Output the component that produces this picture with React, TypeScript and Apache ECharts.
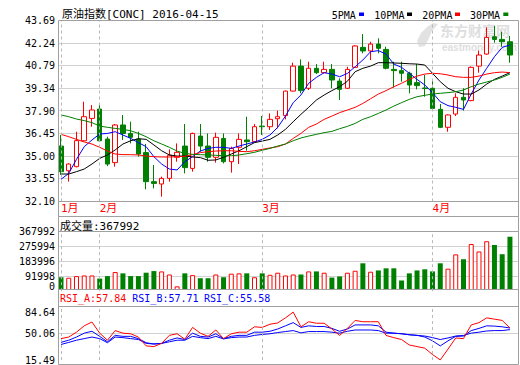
import { useEffect, useRef } from 'react';
import * as echarts from 'echarts';

// ---------- data ----------
const DATES = [
  '01-25', '01-26', '01-27', '01-28', '01-29',
  '02-01', '02-02', '02-03', '02-04', '02-05', '02-08', '02-09', '02-10', '02-11', '02-12',
  '02-15', '02-16', '02-17', '02-18', '02-19', '02-22', '02-23', '02-24', '02-25', '02-26', '02-29',
  '03-01', '03-02', '03-03', '03-04', '03-07', '03-08', '03-09', '03-10', '03-11', '03-14', '03-15',
  '03-16', '03-17', '03-18', '03-21', '03-22', '03-23', '03-24', '03-28', '03-29', '03-30', '03-31',
  '04-01', '04-04', '04-05', '04-06', '04-07', '04-08', '04-11', '04-12', '04-13', '04-14', '04-15',
];

// [open, close, low, high]
const OHLC = [
  [35.65, 34.01, 33.80, 36.36], [34.07, 34.50, 33.37, 34.55], [34.33, 36.00, 34.29, 36.57],
  [35.99, 37.53, 35.95, 38.49], [37.42, 37.96, 36.89, 38.28], [38.02, 35.99, 35.95, 38.34],
  [36.10, 34.50, 34.37, 36.25], [34.59, 37.00, 34.33, 37.06], [37.00, 36.46, 36.04, 37.64],
  [36.46, 36.21, 35.82, 37.21], [36.10, 35.14, 34.97, 36.57], [35.23, 33.37, 32.88, 35.78],
  [33.37, 33.26, 32.94, 34.44], [33.22, 33.58, 32.41, 33.69], [33.58, 35.06, 33.37, 35.44],
  [34.93, 35.25, 34.65, 35.82], [35.65, 34.27, 33.90, 37.06], [34.22, 36.46, 34.01, 36.51],
  [36.29, 35.65, 35.29, 37.06], [35.65, 34.93, 34.65, 36.46], [34.93, 36.21, 34.59, 36.51],
  [36.14, 34.65, 34.54, 36.46], [34.65, 35.50, 33.95, 35.61], [35.57, 36.08, 34.50, 36.46],
  [36.04, 35.93, 35.35, 37.53], [35.93, 36.89, 35.90, 37.06], [36.93, 36.89, 36.36, 37.57],
  [36.89, 37.36, 36.68, 37.74], [37.40, 37.53, 36.78, 37.92], [37.60, 39.17, 37.36, 39.20],
  [39.17, 40.77, 39.15, 40.99], [40.77, 39.20, 39.03, 41.20], [39.35, 40.63, 39.24, 41.05],
  [40.63, 40.35, 40.26, 40.90], [40.35, 40.56, 40.30, 41.05], [40.56, 39.88, 39.35, 40.90],
  [39.81, 39.28, 38.60, 39.99], [39.35, 40.56, 39.30, 40.73], [40.69, 42.06, 40.65, 42.10],
  [41.97, 41.74, 41.59, 42.82], [41.74, 42.18, 41.16, 42.33], [42.18, 41.91, 41.59, 42.55],
  [41.84, 40.63, 40.56, 42.01], [40.56, 40.48, 39.39, 41.05], [40.48, 40.31, 39.77, 41.05],
  [40.31, 39.56, 39.03, 40.41], [39.71, 39.52, 39.28, 40.90], [39.37, 39.33, 38.81, 40.20],
  [39.35, 38.06, 38.00, 39.84], [38.00, 36.85, 36.80, 38.34], [36.85, 37.64, 36.57, 37.68],
  [37.70, 38.77, 37.57, 39.03], [38.77, 38.60, 37.92, 39.35], [38.56, 40.69, 38.52, 40.75],
  [40.77, 41.48, 40.35, 41.76], [41.54, 42.61, 41.50, 43.25], [42.65, 42.48, 42.27, 43.34],
  [42.48, 42.33, 42.01, 42.97], [42.33, 41.48, 40.99, 42.70],
];

const VOLUME = [
  86000, 83000, 93000, 97000, 97000, 78000, 93000, 118000, 110000, 93000,
  93000, 114000, 124000, 122000, 103000, 30000, 110000, 99000, 80000, 80000,
  103000, 86000, 108000, 110000, 110000, 86000, 110000, 101000, 114000, 97000,
  103000, 103000, 122000, 122000, 114000, 84000, 91000, 114000, 126000, 172000,
  120000, 128000, 141000, 141000, 66000, 110000, 128000, 135000, 122000, 172000,
  139000, 227000, 197000, 291000, 245000, 308000, 285000, 228000, 335000,
];

const MA5 = [
  33.52, 33.90, 34.80, 35.61, 36.04, 36.42, 36.46, 36.57, 36.36, 36.14,
  35.87, 35.61, 34.97, 34.50, 34.18, 34.12, 34.65, 34.97, 35.33, 35.50,
  35.57, 35.57, 35.50, 35.65, 35.78, 35.91, 36.08, 36.36, 36.85, 37.57,
  38.43, 38.92, 39.67, 40.05, 40.35, 40.26, 40.09, 40.30, 40.73, 41.16,
  41.69, 41.76, 41.54, 40.90, 40.69, 40.31, 39.92, 39.56, 39.07, 38.49,
  38.24, 38.13, 38.00, 38.98, 39.88, 40.63, 41.37, 41.97, 42.12,
];
const MA10 = [
  33.86, 33.86, 34.01, 34.18, 34.50, 34.86, 35.08, 35.40, 35.78, 35.99,
  36.12, 36.08, 35.72, 35.35, 35.08, 35.01, 35.01, 34.95, 34.91, 34.74,
  34.76, 34.93, 35.14, 35.35, 35.61, 35.87, 35.97, 36.08, 36.36, 36.72,
  37.21, 37.68, 38.13, 38.60, 38.92, 39.20, 39.45, 39.80, 40.41, 40.63,
  40.77, 40.99, 40.99, 40.97, 40.95, 40.92, 40.90, 40.84, 40.31, 39.77,
  39.35, 39.13, 38.98, 38.98, 39.24, 39.62, 39.92, 40.13, 40.35,
];
const MA20 = [
  36.40, 36.25, 36.08, 35.91, 35.78, 35.57, 35.33, 35.14, 35.10, 35.10,
  35.08, 35.01, 34.97, 34.95, 34.95, 34.97, 34.99, 35.10, 35.23, 35.29,
  35.33, 35.35, 35.35, 35.31, 35.29, 35.35, 35.44, 35.53, 35.61, 35.78,
  36.14, 36.46, 36.85, 37.06, 37.36, 37.57, 37.79, 37.96, 38.13, 38.38,
  38.68, 38.98, 39.20, 39.45, 39.67, 39.92, 40.13, 40.26, 40.31, 40.28,
  40.20, 40.09, 40.05, 40.05, 40.13, 40.26, 40.35, 40.39, 40.35,
];
const MA30 = [
  37.64, 37.53, 37.38, 37.28, 37.15, 36.93, 36.85, 36.78, 36.72, 36.63,
  36.46, 36.25, 35.99, 35.78, 35.57, 35.33, 35.18, 35.12, 35.10, 35.08,
  35.06, 35.03, 35.03, 35.08, 35.16, 35.25, 35.38, 35.50, 35.65, 35.78,
  35.99, 36.17, 36.29, 36.40, 36.51, 36.59, 36.76, 36.91, 37.10, 37.36,
  37.53, 37.74, 37.96, 38.21, 38.43, 38.64, 38.81, 38.90, 38.98, 39.03,
  39.07, 39.13, 39.24, 39.45, 39.62, 39.75, 39.88, 40.05, 40.26,
];

const RSI_A = [
  43.7, 45.8, 52.2, 60.6, 65.6, 50.9, 41.6, 54.3, 50.9, 50.1,
  45.8, 34.1, 33.2, 37.4, 48.0, 50.1, 42.9, 58.5, 50.9, 46.7,
  55.1, 43.7, 50.1, 52.2, 52.2, 59.3, 58.5, 62.7, 64.4, 71.1,
  78.7, 59.3, 66.0, 64.0, 64.0, 56.4, 47.9, 57.2, 67.7, 66.0,
  66.0, 66.0, 47.9, 45.0, 42.5, 35.3, 33.2, 31.1, 22.7, 15.6,
  29.9, 44.6, 43.7, 61.8, 64.8, 71.1, 69.4, 67.7, 57.84,
];
const RSI_B = [
  38.8, 41.6, 45.8, 50.9, 53.4, 46.7, 39.5, 48.0, 46.7, 46.7,
  43.7, 38.3, 36.6, 37.4, 41.6, 44.6, 42.5, 50.9, 46.7, 45.8,
  50.1, 43.7, 46.7, 48.0, 48.0, 52.2, 52.2, 53.4, 56.4, 60.6,
  64.8, 58.5, 60.6, 59.7, 59.7, 57.2, 53.4, 56.4, 61.8, 61.8,
  61.8, 60.6, 52.2, 50.9, 50.1, 48.8, 48.0, 45.8, 40.8, 34.1,
  40.8, 46.7, 47.1, 54.3, 57.2, 60.6, 60.2, 59.3, 57.71,
];
const RSI_C = [
  36.0, 38.7, 41.6, 43.7, 45.8, 43.7, 38.3, 45.8, 45.0, 43.7,
  42.5, 37.4, 36.6, 37.4, 39.5, 41.6, 41.6, 46.7, 45.0, 43.7,
  46.7, 43.3, 45.0, 45.8, 45.8, 48.0, 49.2, 50.1, 51.7, 53.0,
  54.3, 51.3, 53.0, 53.0, 53.0, 52.2, 50.9, 53.4, 55.1, 55.1,
  55.1, 54.3, 50.9, 50.9, 50.1, 48.8, 48.0, 47.1, 45.0, 42.5,
  44.6, 47.1, 47.9, 50.9, 52.2, 53.8, 54.3, 54.3, 55.58,
];

const PRICE_TICKS = ['32.10', '33.55', '35.00', '36.45', '37.90', '39.34', '40.79', '42.24', '43.69'];
const VOL_TICKS = ['0', '91998', '183996', '275994', '367992'];
const RSI_TICKS = ['15.49', '50.06', '84.64'];

const TITLE = '原油指数[CONC] 2016-04-15';
const MA_NAMES = ['5PMA', '10PMA', '20PMA', '30PMA'];
const VOL_TITLE = '成交量:367992';
const RSI_TITLES = ['RSI_A:57.84', 'RSI_B:57.71', 'RSI_C:55.58'];
const WATERMARK = ['东方财富网', 'eastmoney.com'];

// ---------- styles / layout ----------
const FONT = "'DejaVu Sans Mono', 'Noto Sans CJK SC', monospace";
const RED = '#ff0000';
const GREEN = '#008000';
const BLUE = '#0000ff';
const MA_COLORS = [BLUE, '#000000', RED, GREEN];
const GRID_C = '#d2d2d2';
const FRAME_C = '#a0a0a0';
const GRID_LEFT = 57.13;
const GRID_RIGHT = 6.2;
const FL = 58.5;
const FR = 518.5;

export default function App() {
  const ref = useRef<HTMLDivElement>(null);

  useEffect(() => {
    const chart = echarts.init(ref.current as HTMLDivElement, null, { renderer: 'svg' });

    const monthStarts = DATES.map((d, i) => (i === 0 || d.slice(0, 2) !== DATES[i - 1].slice(0, 2) ? i : -1)).filter((i) => i >= 0);
    const monthSet = new Set(monthStarts);

    const markLine = () => ({
      silent: true,
      symbol: ['none', 'none'],
      label: { show: false },
      lineStyle: { type: [3, 3], color: '#b8b8b8', width: 1 },
      data: monthStarts.map((i) => ({ xAxis: DATES[i] })),
    });

    const xAxis = (gi: number) => ({
      type: 'category',
      gridIndex: gi,
      data: DATES,
      boundaryGap: true,
      axisLine: { show: false },
      axisTick: { show: false },
      splitLine: { show: false },
      axisLabel: gi === 0
        ? {
            show: true,
            interval: (idx: number) => monthSet.has(idx),
            formatter: (v: string) => `${Number(v.slice(0, 2))}月`,
            color: RED,
            fontSize: 11,
            fontFamily: FONT,
            margin: 1,
            align: 'left',
          }
        : { show: false },
    });

    const yAxis = (gi: number, min: number, max: number, interval: number, labels: string[], extra: any = {}) => ({
      type: 'value',
      gridIndex: gi,
      min,
      max,
      interval,
      axisLine: { show: false },
      axisTick: { show: false },
      splitLine: { show: false },
      axisLabel: {
        margin: 2,
        color: '#000',
        fontSize: 10,
        fontFamily: FONT,
        formatter: (v: number) => labels[Math.round((v - min) / interval)] ?? '',
        ...extra,
      },
    });

    const priceMin = parseFloat(PRICE_TICKS[0]);
    const priceMax = parseFloat(PRICE_TICKS[PRICE_TICKS.length - 1]);
    const priceInt = (priceMax - priceMin) / (PRICE_TICKS.length - 1);
    const volMax = parseFloat(VOL_TICKS[VOL_TICKS.length - 1]);
    const volInt = volMax / (VOL_TICKS.length - 1);
    const rsiMin = parseFloat(RSI_TICKS[0]);
    const rsiMax = parseFloat(RSI_TICKS[RSI_TICKS.length - 1]);
    const rsiInt = (rsiMax - rsiMin) / (RSI_TICKS.length - 1);

    const maSeries = [MA5, MA10, MA20, MA30].map((d, k) => ({
      name: MA_NAMES[k],
      type: 'line',
      xAxisIndex: 0,
      yAxisIndex: 0,
      data: d,
      showSymbol: false,
      symbol: 'none',
      lineStyle: { width: 1, color: MA_COLORS[k] },
      itemStyle: { color: MA_COLORS[k] },
      z: 3,
    }));

    const volData = VOLUME.map((v, i) => ({
      value: v,
      itemStyle: OHLC[i][1] >= OHLC[i][0]
        ? { color: '#ffffff', borderColor: RED, borderWidth: 1 }
        : { color: GREEN, borderColor: GREEN, borderWidth: 0 },
    }));

    const rsiLine = (name: string, d: number[], color: string, withMark: boolean) => ({
      name,
      type: 'line',
      xAxisIndex: 2,
      yAxisIndex: 2,
      data: d,
      showSymbol: false,
      symbol: 'none',
      lineStyle: { width: 1, color },
      z: 3,
      ...(withMark ? { markLine: markLine() } : {}),
    });

    chart.setOption({
      animation: false,
      backgroundColor: '#ffffff',
      grid: [
        { left: GRID_LEFT, right: GRID_RIGHT, top: 20.5, height: 181 },
        { left: GRID_LEFT, right: GRID_RIGHT, top: 231.5, height: 59.7 },
        { left: GRID_LEFT, right: GRID_RIGHT, top: 307.6, height: 54.8 },
      ],
      xAxis: [xAxis(0), xAxis(1), xAxis(2)],
      yAxis: [
        yAxis(0, priceMin, priceMax, priceInt, PRICE_TICKS),
        yAxis(1, 0, volMax, volInt, VOL_TICKS, { verticalAlignMinLabel: 'bottom' }),
        yAxis(2, rsiMin, rsiMax, rsiInt, RSI_TICKS, { verticalAlignMaxLabel: 'top' }),
      ],
      series: [
        {
          name: 'K',
          type: 'candlestick',
          xAxisIndex: 0,
          yAxisIndex: 0,
          data: OHLC,
          barWidth: 5,
          itemStyle: {
            color: '#ffffff',
            color0: GREEN,
            borderColor: RED,
            borderColor0: GREEN,
            borderWidth: 1,
          },
          markLine: markLine(),
          z: 2,
        },
        ...maSeries,
        {
          name: 'VOL',
          type: 'bar',
          xAxisIndex: 1,
          yAxisIndex: 1,
          data: volData,
          barWidth: 5,
          markLine: markLine(),
          z: 2,
        },
        rsiLine('RSI_C', RSI_C, BLUE, true),
        rsiLine('RSI_B', RSI_B, BLUE, false),
        rsiLine('RSI_A', RSI_A, RED, false),
      ],
    });

    // ---- frames, gridlines, texts ----
    const yPix = (axis: number, v: number) => chart.convertToPixel({ yAxisIndex: axis }, v) as number;
    const crisp = (y: number) => Math.floor(y) + 0.5;
    const hLine = (y: number, color: string, z: number) => ({
      type: 'line', silent: true, z,
      shape: { x1: FL, y1: y, x2: FR, y2: y },
      style: { stroke: color, lineWidth: 1 },
    });
    const vLine = (x: number, y1: number, y2: number, color: string, z: number) => ({
      type: 'line', silent: true, z,
      shape: { x1: x, y1, x2: x, y2 },
      style: { stroke: color, lineWidth: 1 },
    });
    const text = (t: string, x: number, y: number, fill: string, size: number, extra: any = {}) => ({
      type: 'text', silent: true, z: 6, x, y,
      style: {
        text: t, fill, font: `${size}px ${FONT}`,
        textAlign: 'left', textVerticalAlign: 'middle', align: 'left', verticalAlign: 'middle',
        ...extra,
      },
    });

    const gridLines: any[] = [];
    PRICE_TICKS.slice(1, -1).forEach((t) => gridLines.push(hLine(crisp(yPix(0, parseFloat(t))), GRID_C, 0)));
    VOL_TICKS.slice(1, -1).forEach((t) => gridLines.push(hLine(crisp(yPix(1, parseFloat(t))), GRID_C, 0)));
    RSI_TICKS.slice(1, -1).forEach((t) => gridLines.push(hLine(crisp(yPix(2, parseFloat(t))), GRID_C, 0)));

    const frame = [20.5, 201.5, 216.5, 231.5, 289.5, 306.5, 364.5].map((y) => hLine(y, FRAME_C, 5));
    frame.push(vLine(FL, 20.5, 364.5, FRAME_C, 5));
    frame.push(vLine(FR, 20.5, 364.5, FRAME_C, 5));

    const legendTextX = [331.7, 374.3, 422.3, 470];
    const legendRectX = [359, 407, 455, 503.3];
    const legend: any[] = [];
    MA_NAMES.forEach((n, k) => {
      legend.push(text(n, legendTextX[k], 15, '#000', 10));
      legend.push({ type: 'rect', silent: true, z: 6, shape: { x: legendRectX[k], y: 12.5, width: 5, height: 3.5 }, style: { fill: MA_COLORS[k] } });
    });

    const watermark = [
      {
        type: 'polygon', silent: true, z: 0,
        shape: { points: [[433, 23], [438, 24], [432, 31], [429, 38], [425, 46], [419, 47], [417, 41], [421, 33], [427, 27]] },
        style: { fill: '#e2e2e2' },
      },
      text(WATERMARK[0], 440, 30, '#dedede', 13, { font: "bold 14px 'Noto Sans CJK SC'" }),
      text(WATERMARK[1], 442, 47, '#dedede', 9, { font: "bold 10px 'Liberation Sans'" }),
    ].map((e: any) => ({ ...e, z: 0 }));

    chart.setOption({
      graphic: [
        ...watermark,
        ...gridLines,
        { type: 'rect', silent: true, z: 4, shape: { x: FL, y: 289.5, width: FR - FL, height: 5 }, style: { fill: '#ffffff' } },
        ...frame,
        text(TITLE, 62, 14.5, '#000', 11),
        ...legend,
        text(VOL_TITLE, 60, 226, '#000', 11),
        text(RSI_TITLES[0], 60, 298.5, RED, 10),
        text(RSI_TITLES[1], 132.3, 298.5, BLUE, 10),
        text(RSI_TITLES[2], 204, 298.5, BLUE, 10),
      ],
    });

    return () => chart.dispose();
  }, []);

  return <div ref={ref} style={{ position: 'fixed', left: 0, top: 0, width: 520, height: 365 }} />;
}
